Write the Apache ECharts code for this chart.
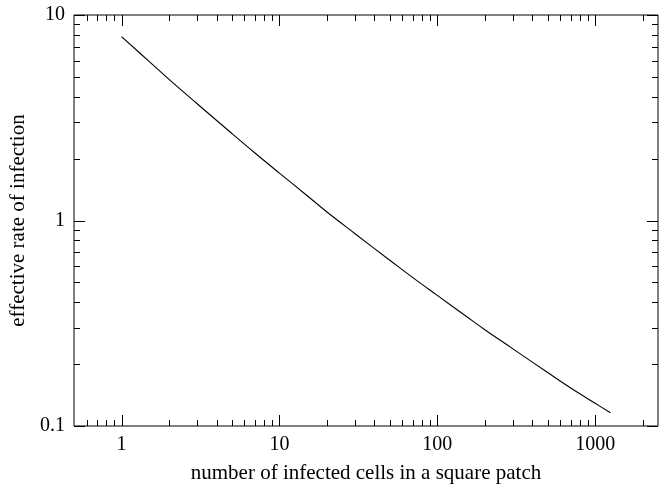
<!DOCTYPE html>
<html>
<head>
<meta charset="utf-8">
<script src="https://cdn.jsdelivr.net/npm/echarts@6/dist/echarts.min.js"></script>
<style>
  html, body { margin: 0; padding: 0; background: #fff; }
  #chart { width: 661px; height: 489px; }
</style>
</head>
<body>
<div id="chart"></div>
<script>
// patch size (cells) and effective infection rate
var cells = [1, 1.5, 2, 3, 5, 7, 10, 15, 20, 30, 50, 70, 100, 150, 200, 300, 500, 700, 1000, 1250]
var rate = [7.85, 5.93, 4.86, 3.71, 2.65, 2.13, 1.70, 1.32, 1.10, 0.865, 0.641, 0.527, 0.432, 0.345, 0.294, 0.238, 0.182, 0.153, 0.129, 0.116]

// tick positions
var xMajorTicks = [1, 10, 100, 1000]
var xMinorTicks = [0.6, 0.7, 0.8, 0.9, 2, 3, 4, 5, 6, 7, 8, 9, 20, 30, 40, 50, 60, 70, 80, 90,
  200, 300, 400, 500, 600, 700, 800, 900, 2000]
var yMajorTicks = [0.1, 1, 10]
var yMinorTicks = [0.2, 0.3, 0.4, 0.5, 0.6, 0.7, 0.8, 0.9, 2, 3, 4, 5, 6, 7, 8, 9]

var xMin = 0.5, xMax = 2500
var yMin = 0.1, yMax = 10

var font = '"Liberation Serif", "DejaVu Serif", serif'

function powLabel(v) {
  var l = Math.log10(v)
  if (Math.abs(l - Math.round(l)) > 1e-6) return ''
  return String(+v.toPrecision(6))
}

// tick marks drawn inward on all four sides
function xTickItem(len) {
  return function (params, api) {
    var cs = params.coordSys
    var p = api.coord([api.value(0), 1])
    var x = Math.round(p[0]) + 0.5
    var st = { stroke: '#000', lineWidth: 1 }
    return {
      type: 'group',
      children: [
        { type: 'line', shape: { x1: x, y1: cs.y + cs.height, x2: x, y2: cs.y + cs.height - len }, style: st },
        { type: 'line', shape: { x1: x, y1: cs.y, x2: x, y2: cs.y + len }, style: st }
      ]
    }
  }
}
function yTickItem(len) {
  return function (params, api) {
    var cs = params.coordSys
    var p = api.coord([1, api.value(1)])
    var y = Math.round(p[1]) + 0.5
    var st = { stroke: '#000', lineWidth: 1 }
    return {
      type: 'group',
      children: [
        { type: 'line', shape: { x1: cs.x, y1: y, x2: cs.x + len, y2: y }, style: st },
        { type: 'line', shape: { x1: cs.x + cs.width, y1: y, x2: cs.x + cs.width - len, y2: y }, style: st }
      ]
    }
  }
}

var myChart = echarts.init(document.getElementById('chart'))
myChart.setOption({
  animation: false,
  grid: {
    left: 74, top: 15, right: 1, bottom: 62,
    show: true, borderColor: '#000', borderWidth: 1
  },
  xAxis: {
    type: 'log',
    logBase: 10,
    min: xMin,
    max: xMax,
    name: 'number of infected cells in a square patch',
    nameLocation: 'middle',
    nameGap: 37,
    nameTextStyle: { fontFamily: font, fontSize: 21, color: '#000' },
    axisLine: { show: false },
    axisTick: { show: false },
    splitLine: { show: false },
    minorTick: { show: false },
    axisLabel: {
      fontFamily: font, fontSize: 20, color: '#000', margin: 9,
      showMinLabel: true, showMaxLabel: true,
      formatter: powLabel
    }
  },
  yAxis: {
    type: 'log',
    logBase: 10,
    min: yMin,
    max: yMax,
    name: 'effective rate of infection',
    nameLocation: 'middle',
    nameGap: 40,
    nameTextStyle: { fontFamily: font, fontSize: 21, color: '#000' },
    axisLine: { show: false },
    axisTick: { show: false },
    splitLine: { show: false },
    axisLabel: {
      fontFamily: font, fontSize: 20, color: '#000', margin: 9,
      formatter: powLabel
    }
  },
  series: [
    {
      type: 'line',
      data: cells.map(function (c, i) { return [c, rate[i]] }),
      showSymbol: false,
      smooth: 0.4,
      lineStyle: { color: '#000', width: 1.1 },
      z: 3
    },
    {
      type: 'custom',
      renderItem: xTickItem(11),
      data: xMajorTicks.map(function (v) { return [v, 1] }),
      silent: true
    },
    {
      type: 'custom',
      renderItem: xTickItem(6),
      data: xMinorTicks.map(function (v) { return [v, 1] }),
      silent: true
    },
    {
      type: 'custom',
      renderItem: yTickItem(11),
      data: yMajorTicks.map(function (v) { return [1, v] }),
      silent: true
    },
    {
      type: 'custom',
      renderItem: yTickItem(6),
      data: yMinorTicks.map(function (v) { return [1, v] }),
      silent: true
    }
  ]
})
</script>
</body>
</html>
